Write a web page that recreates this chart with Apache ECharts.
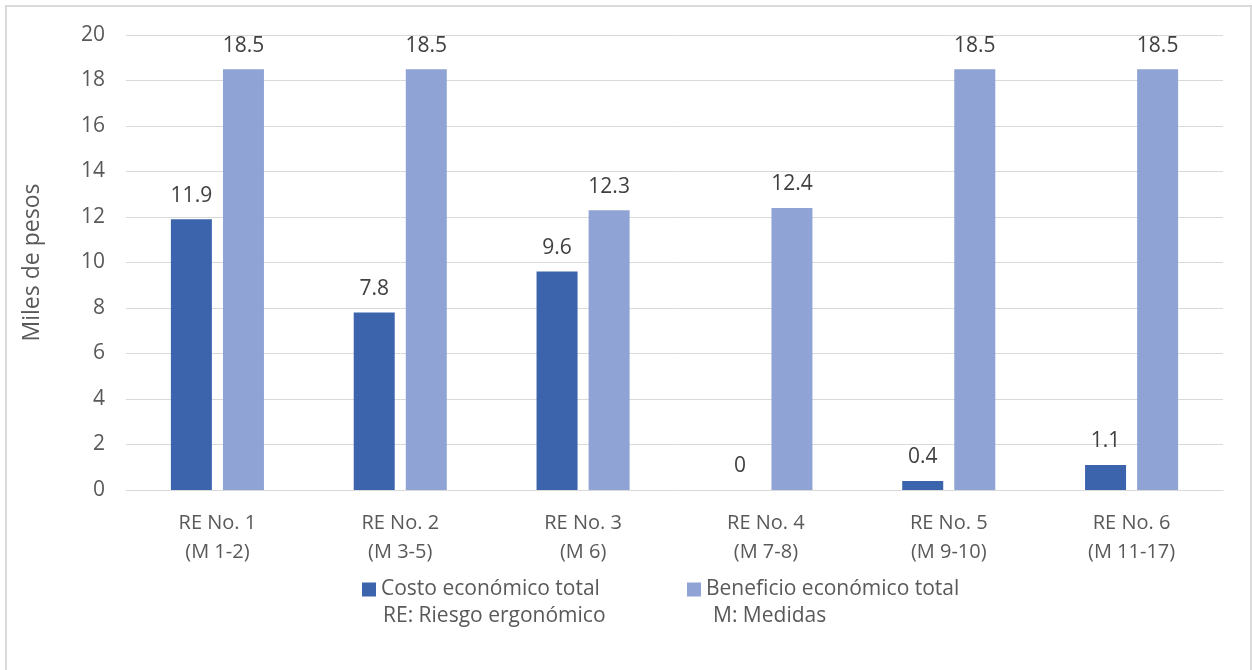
<!DOCTYPE html>
<html>
<head>
<meta charset="utf-8">
<script src="https://cdn.jsdelivr.net/npm/echarts@6/dist/echarts.min.js"></script>
<style>
  html, body { margin: 0; padding: 0; background: #fff; }
  #chart { width: 1252px; height: 670px; }
</style>
</head>
<body>
<div id="chart"></div>
<script>
// Risk groups (RE) with their measures (M)
const categories = [
  'RE No. 1\n(M 1-2)',
  'RE No. 2\n(M 3-5)',
  'RE No. 3\n(M 6)',
  'RE No. 4\n(M 7-8)',
  'RE No. 5\n(M 9-10)',
  'RE No. 6\n(M 11-17)'
];
// Thousands of pesos
const costoTotal = [11.9, 7.8, 9.6, 0, 0.4, 1.1];
const beneficioTotal = [18.5, 18.5, 12.3, 12.4, 18.5, 18.5];
const yTicks = { min: 0, max: 20, interval: 2 };

const FONT = '"Open Sans", Lato, sans-serif';
const TEXT = '#595959';

const chart = echarts.init(document.getElementById('chart'), null, { renderer: 'canvas' });

const labelStyle = {
  show: true,
  position: 'top',
  distance: 13,
  color: '#404040',
  fontSize: 21,
  fontFamily: FONT
};

const legendBase = {
  icon: 'rect',
  itemWidth: 14,
  itemHeight: 14,
  padding: 0,
  top: 579,
  textStyle: { color: TEXT, fontSize: 21, fontFamily: FONT }
};

chart.setOption({
  animation: false,
  backgroundColor: '#ffffff',
  grid: { left: 126, right: 29, top: 35, bottom: 180, containLabel: false },
  xAxis: {
    type: 'category',
    data: categories,
    axisLine: { show: true, lineStyle: { color: '#d9d9d9', width: 1 } },
    axisTick: { show: false },
    axisLabel: {
      color: TEXT,
      fontSize: 20,
      fontFamily: FONT,
      lineHeight: 29,
      margin: 19,
      interval: 0
    }
  },
  yAxis: {
    type: 'value',
    min: yTicks.min,
    max: yTicks.max,
    interval: yTicks.interval,
    name: 'Miles de pesos',
    nameLocation: 'middle',
    nameGap: 82,
    nameTextStyle: { color: TEXT, fontSize: 23, fontFamily: FONT },
    axisLine: { show: false },
    axisTick: { show: false },
    axisLabel: { color: TEXT, fontSize: 21, fontFamily: FONT, margin: 21 },
    splitLine: { lineStyle: { color: '#d9d9d9', width: 1 } }
  },
  legend: [
    Object.assign({}, legendBase, { data: ['Costo económico total'], left: 362 }),
    Object.assign({}, legendBase, { data: ['Beneficio económico total'], left: 687 })
  ],
  graphic: [
    {
      type: 'rect',
      silent: true,
      shape: { x: 6, y: 6, width: 1245, height: 700 },
      style: { fill: 'none', stroke: '#d9d9d9', lineWidth: 2 }
    },
    {
      type: 'text',
      x: 383,
      y: 616,
      style: {
        text: 'RE: Riesgo ergonómico',
        fill: TEXT, fontSize: 21, fontFamily: FONT,
        verticalAlign: 'middle'
      }
    },
    {
      type: 'text',
      x: 713,
      y: 616,
      style: {
        text: 'M: Medidas',
        fill: TEXT, fontSize: 21, fontFamily: FONT,
        verticalAlign: 'middle'
      }
    }
  ],
  series: [
    {
      name: 'Costo económico total',
      type: 'bar',
      data: costoTotal,
      barWidth: 41,
      barGap: '27%',
      itemStyle: { color: '#3b64ad' },
      label: labelStyle
    },
    {
      name: 'Beneficio económico total',
      type: 'bar',
      data: beneficioTotal,
      barWidth: 41,
      barGap: '27%',
      itemStyle: { color: '#8fa4d4' },
      label: labelStyle
    }
  ]
});
</script>
</body>
</html>
